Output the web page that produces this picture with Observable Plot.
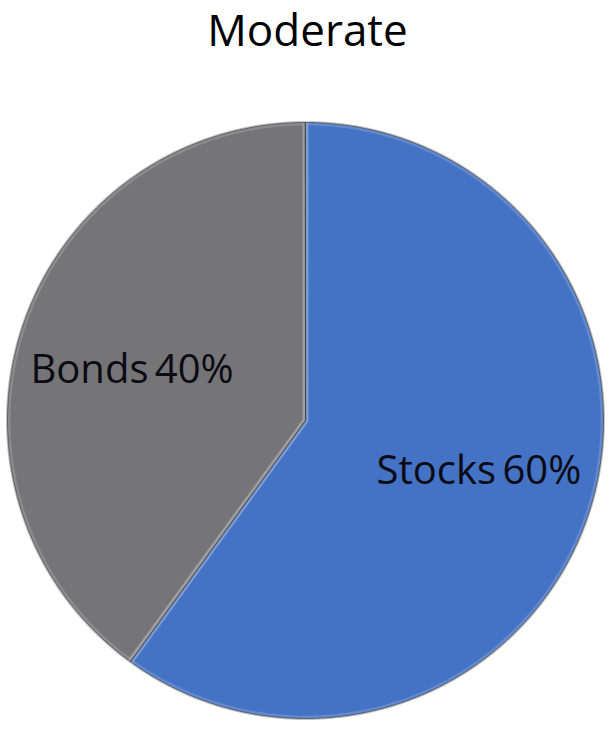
<!DOCTYPE html>
<html>
<head>
<meta charset="utf-8">
<script src="https://cdn.jsdelivr.net/npm/d3@7"></script>
<script src="https://cdn.jsdelivr.net/npm/@observablehq/plot@0.6"></script>
<style>
  html, body { margin: 0; padding: 0; background: #fff; }
  #title { height: 60px; font-family: "Open Sans", sans-serif; font-size: 44px; text-align: center; line-height: 58px; color: #000; padding-left: 1px; box-sizing: border-box; }
  svg { display: block; }
</style>
</head>
<body>
<div id="title">Moderate</div>
<div id="chart"></div>
<script>
const categories = ["Stocks", "Bonds"];
const values = [60, 40];
const colors = ["#4472C4", "#757578"];

const data = categories.map((c, i) => ({category: c, value: values[i], color: colors[i]}));
const arcs = d3.pie().sort(null).value(d => d.value)(data);

// slice polygons (angles clockwise from 12 o'clock), y-up coordinates
function slicePolygon(a0, a1) {
  const n = Math.max(2, Math.ceil((a1 - a0) / (Math.PI / 360)));
  const ring = [[0, 0]];
  for (let k = 0; k <= n; k++) {
    const a = a0 + (a1 - a0) * k / n;
    ring.push([Math.sin(a), Math.cos(a)]);
  }
  ring.push([0, 0]);
  return ring;
}
const slices = arcs.map(a => ({
  type: "Feature",
  properties: {category: a.data.category, color: a.data.color, value: a.data.value},
  geometry: {type: "Polygon", coordinates: [slicePolygon(a.startAngle, a.endAngle).reverse()]}
}));
const full = {type: "Polygon", coordinates: [slicePolygon(0, 2 * Math.PI).slice(1).reverse()]};

const labelR = 0.612, labelSquash = 0.9;
const labels = arcs.map(a => {
  const m = (a.startAngle + a.endAngle) / 2;
  return {x: labelR * Math.sin(m), y: labelSquash * labelR * Math.cos(m), text: `${a.data.category} ${a.data.value}%`};
});

const chart = Plot.plot({
  width: 614,
  height: 669,
  marginTop: 62,
  marginLeft: 7,
  marginRight: 11,
  marginBottom: 11,
  projection: {type: "reflect-y", domain: full},
  style: {background: "#fff"},
  marks: [
    Plot.geo([full], {fill: "none", stroke: "#333", strokeWidth: 3, strokeOpacity: 0.35}),
    Plot.geo(slices, {fill: d => d.properties.color, stroke: "none"}),
    Plot.geo(slices, {fill: "none", stroke: "#ffffff", strokeOpacity: 0.16, strokeWidth: 6}),
    Plot.geo(slices, {fill: "none", stroke: "#2a2a2a", strokeOpacity: 0.55, strokeWidth: 1}),
    Plot.text(labels, {x: "x", y: "y", text: "text", fontSize: 40, fontFamily: "Open Sans", fill: "#0b0b14"})
  ]
});
d3.select(chart).selectAll("text").style("word-spacing", "-4px");
document.getElementById("chart").appendChild(chart);
</script>
</body>
</html>
